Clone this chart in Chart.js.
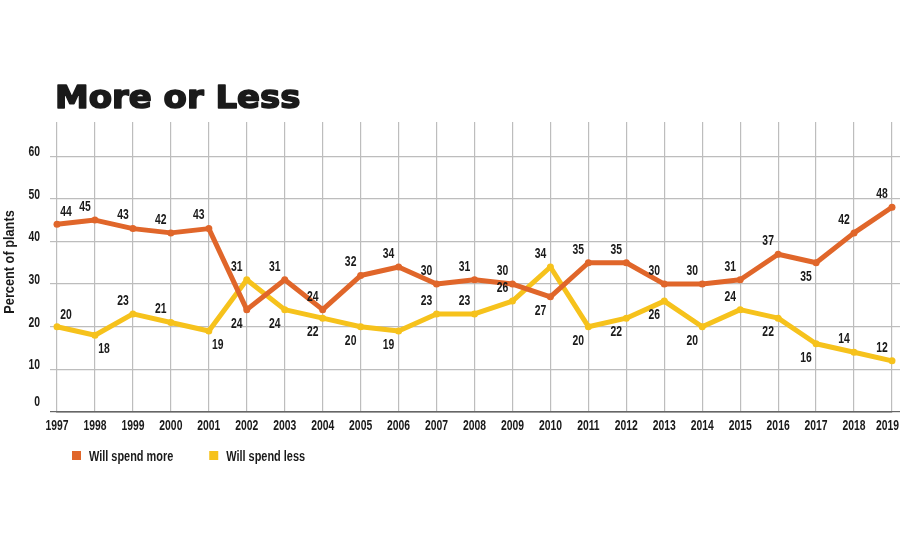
<!DOCTYPE html>
<html>
<head>
<meta charset="utf-8">
<script src="https://cdn.jsdelivr.net/npm/chart.js@4.4.1/dist/chart.umd.min.js"></script>
<style>
  html, body { margin: 0; padding: 0; background: #fff; }
  #wrap { width: 900px; height: 550px; position: relative; }
</style>
</head>
<body>
<div id="wrap"><canvas id="chart"></canvas></div>
<script>
// ============================================
// More or Less — spending outlook line chart
// ============================================

const years = ['1997', '1998', '1999', '2000', '2001', '2002', '2003', '2004', '2005', '2006', '2007', '2008',
    '2009', '2010', '2011', '2012', '2013', '2014', '2015', '2016', '2017', '2018', '2019'];

const spendMore = [44, 45, 43, 42, 43, 24, 31, 24, 32, 34, 30, 31, 30, 27, 35, 35, 30, 30, 31, 37, 35, 42, 48];
const spendLess = [20, 18, 23, 21, 19, 31, 24, 22, 20, 19, 23, 23, 26, 34, 20, 22, 26, 20, 24, 22, 16, 14, 12];

const yTicks = [0, 10, 20, 30, 40, 50, 60];

// where each value label sits relative to its point
const moreLabelPos = ['ar', 'al', 'al', 'al', 'al', 'bl', 'al', 'al', 'al', 'al', 'al', 'al',
    'al', 'bl', 'al', 'al', 'al', 'al', 'al', 'al', 'bl', 'al', 'al'];
const lessLabelPos = ['ar', 'br', 'al', 'al', 'br', 'al', 'bl', 'bl', 'bl', 'bl', 'al', 'al',
    'al', 'al', 'bl', 'bl', 'bl', 'bl', 'al', 'bl', 'bl', 'al', 'al'];

const ORANGE = '#E0662A';
const YELLOW = '#F6C21C';
const GRID = '#bdbdbd';
const INK = '#1a1a1a';
const FAMILY = '"Liberation Sans", Arial, sans-serif';
const TEXT_FONT = 'bold 14px ' + FAMILY;

const LABEL_OFFSETS = {
    al: [-10, -13],
    ar: [9, -12],
    bl: [-10, 14],
    br: [9, 14],
};

function keepTicks(scale) {
    scale.ticks = yTicks.map(v => ({ value: v }));
}

// condensed look: no narrow face installed, so squeeze a regular one
function narrowText(ctx, text, x, y, align, angle, squeeze = 0.74) {
    ctx.save();
    ctx.translate(x, y);
    if (angle) ctx.rotate(angle);
    ctx.scale(squeeze, 1);
    ctx.textAlign = align;
    ctx.fillText(text, 0, 0);
    ctx.restore();
}

// Axis text drawn from the library's own scales
const axisText = {
    id: 'axisText',
    afterDraw(chart) {
        const ctx = chart.ctx;
        const xs = chart.scales.x;
        const ys = chart.scales.y;
        ctx.save();
        ctx.font = TEXT_FONT;
        ctx.fillStyle = INK;
        ctx.textBaseline = 'middle';
        chart.data.labels.forEach((lab, i) => {
            const half = ctx.measureText(lab).width * 0.74 / 2;
            const x = Math.min(xs.getPixelForTick(i), chart.width - half - 1);
            narrowText(ctx, lab, x, xs.top + 14, 'center');
        });
        yTicks.forEach(v => {
            const lift = v === 0 ? 10 : 4;
            narrowText(ctx, String(v), 40, ys.getPixelForValue(v) - lift, 'right');
        });
        ctx.font = 'bold 15px ' + FAMILY;
        narrowText(ctx, 'Percent of plants', 10, 262, 'center', -Math.PI / 2, 0.85);
        ctx.restore();
    },
};

// Value labels next to each point
const valueLabels = {
    id: 'valueLabels',
    afterDatasetsDraw(chart) {
        const ctx = chart.ctx;
        ctx.save();
        ctx.font = TEXT_FONT;
        ctx.fillStyle = INK;
        ctx.textBaseline = 'middle';
        chart.data.datasets.forEach((ds, i) => {
            const meta = chart.getDatasetMeta(i);
            meta.data.forEach((pt, j) => {
                const off = LABEL_OFFSETS[ds.labelPos[j]];
                narrowText(ctx, String(ds.data[j]), pt.x + off[0], pt.y + off[1], 'center');
            });
        });
        ctx.restore();
    },
};

// Title and legend drawn straight on the canvas
const titleAndLegend = {
    id: 'titleAndLegend',
    afterDraw(chart) {
        const ctx = chart.ctx;
        ctx.save();
        ctx.fillStyle = INK;
        ctx.strokeStyle = INK;
        ctx.lineWidth = 1.6;
        ctx.lineJoin = 'round';
        ctx.textBaseline = 'alphabetic';
        ctx.textAlign = 'left';
        ctx.font = 'bold 32px "DejaVu Sans", sans-serif';
        ctx.save();
        ctx.translate(55, 108);
        ctx.scale(1.06, 1);
        ctx.fillText('More or Less', 0, 0);
        ctx.strokeText('More or Less', 0, 0);
        ctx.restore();

        let x = 72;
        ctx.font = TEXT_FONT;
        chart.data.datasets.forEach(ds => {
            ctx.fillStyle = ds.borderColor;
            ctx.fillRect(x, 451, 9, 9);
            ctx.fillStyle = INK;
            narrowText(ctx, ds.label, x + 17, 461, 'left', 0, 0.78);
            x += 17 + ctx.measureText(ds.label).width * 0.78 + 36;
        });
        ctx.restore();
    },
};

function makeDataset(label, data, color, labelPos) {
    return {
        label,
        data,
        labelPos,
        borderColor: color,
        backgroundColor: color,
        borderWidth: 5,
        borderJoinStyle: 'round',
        borderCapStyle: 'round',
        pointRadius: 3.5,
        pointBackgroundColor: color,
        pointBorderWidth: 0,
        tension: 0,
    };
}

new Chart(document.getElementById('chart'), {
    type: 'line',
    data: {
        labels: years,
        datasets: [
            makeDataset('Will spend more', spendMore, ORANGE, moreLabelPos),
            makeDataset('Will spend less', spendLess, YELLOW, lessLabelPos),
        ],
    },
    options: {
        responsive: true,
        maintainAspectRatio: false,
        animation: false,
        layout: { padding: { top: 122, bottom: 110, left: 0, right: 0 } },
        plugins: {
            legend: { display: false },
            tooltip: { enabled: false },
        },
        scales: {
            x: {
                offset: false,
                grid: { color: GRID, lineWidth: 1.2, drawTicks: false },
                border: { color: '#666', width: 1.5 },
                ticks: { display: false, autoSkip: false },
                afterFit(scale) {
                    scale.height = 28;
                    scale.paddingLeft = 0;
                    scale.paddingRight = 0;
                },
            },
            y: {
                min: 0,
                max: 68,
                afterBuildTicks: keepTicks,
                grid: {
                    color: ctx => (ctx.tick && ctx.tick.value === 0 ? '#666' : GRID),
                    lineWidth: 1.2,
                    tickLength: 7,
                },
                border: { display: false },
                ticks: { display: false },
                afterFit(scale) { scale.width = 57; },
            },
            yRight: {
                position: 'right',
                min: 0,
                max: 68,
                afterBuildTicks: keepTicks,
                grid: {
                    drawOnChartArea: false,
                    color: ctx => (ctx.tick && ctx.tick.value === 0 ? '#666' : GRID),
                    lineWidth: 1.2,
                    tickLength: 8,
                },
                border: { display: false },
                ticks: { display: false },
                afterFit(scale) { scale.width = 8; },
            },
        },
    },
    plugins: [valueLabels, axisText, titleAndLegend],
});
</script>
</body>
</html>
